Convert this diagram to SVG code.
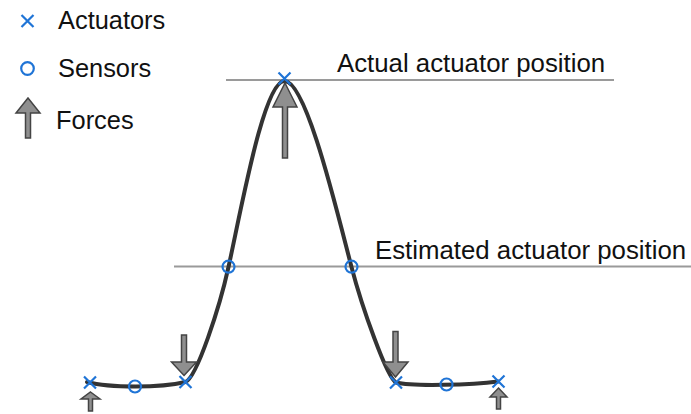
<svg xmlns="http://www.w3.org/2000/svg" width="691" height="414" viewBox="0 0 691 414">
  <defs>
    <style>
      .lbl { font-family: "Liberation Sans", Arial, sans-serif; font-size: 25.8px; fill: #111; }
      .leg { font-family: "Liberation Sans", Arial, sans-serif; font-size: 25.4px; fill: #111; }
      .ref { stroke: #9a9a9a; stroke-width: 2; fill: none; }
      .curve { stroke: #333; stroke-width: 4; fill: none; stroke-linecap: round; }
      .force { fill: #8f8f8f; stroke: #444; stroke-width: 1.5; stroke-linejoin: miter; }
      .act { stroke: #1f74d6; stroke-width: 2.2; fill: none; }
      .sen { stroke: #1f74d6; stroke-width: 2.2; fill: none; }
    </style>
    <g id="cross"><path class="act" d="M-6,-6 L6,6 M-6,6 L6,-6"/></g>
  </defs>
  <rect width="691" height="414" fill="#fff"/>

  <g id="legend">
    <use href="#cross" x="27.5" y="21"/>
    <text class="leg" x="58" y="28.5">Actuators</text>
    <circle class="sen" cx="27.5" cy="68.5" r="6.3"/>
    <text class="leg" x="58" y="77">Sensors</text>
    <polygon class="force" points="28,98 40,113 30.5,113 30.5,138 25.5,138 25.5,113 16,113"/>
    <text class="leg" x="56" y="128.5">Forces</text>
  </g>

  <g id="reference-lines">
    <line class="ref" x1="226" y1="80" x2="614" y2="80"/>
    <text class="lbl" x="337" y="71.5">Actual actuator position</text>
    <line class="ref" x1="174" y1="266.5" x2="691" y2="266.5"/>
    <text class="lbl" x="375" y="259">Estimated actuator position</text>
  </g>

  <g id="connectors">
    <path id="deflection-curve" class="curve" d="M87,382 C110,388 160,388 185.5,382 C197,377 219.7,307 228.5,267 C241.7,207 264,81 284.5,81 C306,81 335.9,207 351.5,267 C361.9,307 387,378 396,382.5 C412,386.5 472,385 498,381.5"/>
  </g>

  <g id="forces">
    <polygon class="force" points="285,83 297,107 287.5,107 287.5,158 282.5,158 282.5,107 273,107"/>
    <polygon class="force" points="184,375.5 196.5,362 186.5,362 186.5,335 181.5,335 181.5,362 171.5,362"/>
    <polygon class="force" points="395.5,377 408,362 398,362 398,331.5 393,331.5 393,362 383,362"/>
    <polygon class="force" points="90.5,392 100,399 92.5,399 92.5,411 88.5,411 88.5,399 81,399"/>
    <polygon class="force" points="498.5,388 507,397 500.5,397 500.5,409 496.5,409 496.5,397 490,397"/>
  </g>

  <g id="actuators">
    <use href="#cross" x="90" y="382.5"/>
    <use href="#cross" x="185.5" y="382"/>
    <use href="#cross" x="284.5" y="78.5"/>
    <use href="#cross" x="396" y="382.5"/>
    <use href="#cross" x="498.5" y="381.5"/>
  </g>

  <g id="sensors">
    <circle class="sen" cx="135" cy="386.5" r="6"/>
    <circle class="sen" cx="228.5" cy="266.7" r="6"/>
    <circle class="sen" cx="351.5" cy="266.7" r="6"/>
    <circle class="sen" cx="446.5" cy="384.5" r="6"/>
  </g>
</svg>
